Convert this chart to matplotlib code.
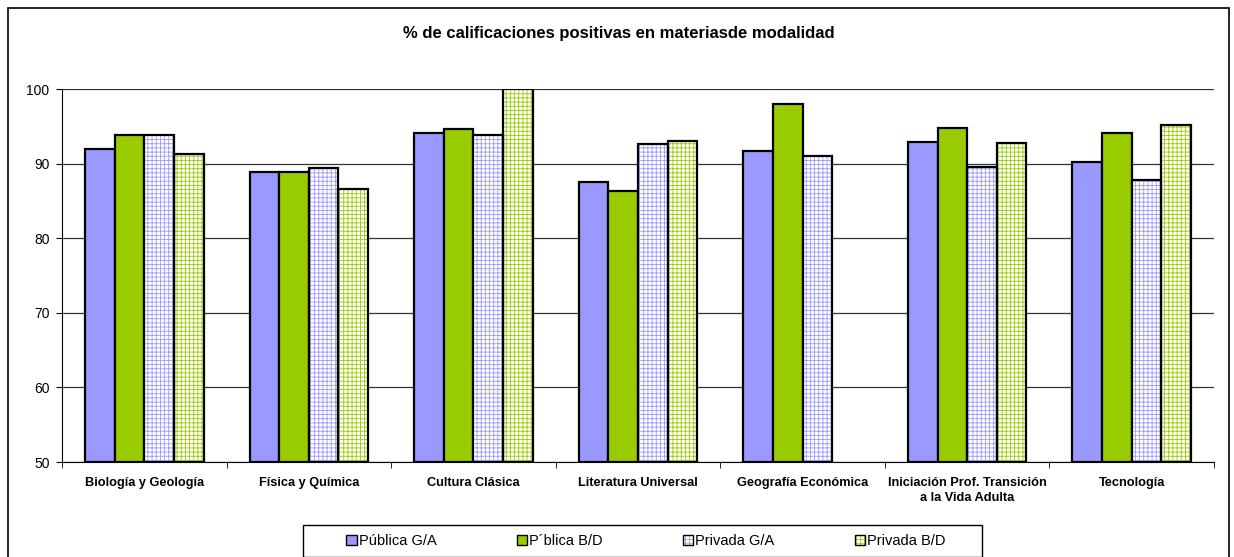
import numpy as np
import matplotlib
matplotlib.use('Agg')
import matplotlib.pyplot as plt
from matplotlib.patches import Rectangle, Patch

plt.rcParams['font.family'] = ['Liberation Sans', 'DejaVu Sans']
plt.rcParams['hatch.linewidth'] = 0.6

# data
categories = ['Biología y Geología', 'Física y Química', 'Cultura Clásica',
              'Literatura Universal', 'Geografía Económica',
              'Iniciación Prof. Transición\na la Vida Adulta', 'Tecnología']
series_names = ['Pública G/A', 'P´blica B/D', 'Privada G/A', 'Privada B/D']
publica_ga = [92.0, 88.9, 94.2, 87.6, 91.7, 92.9, 90.2]
publica_bd = [93.9, 88.9, 94.7, 86.4, 98.0, 94.8, 94.2]
privada_ga = [93.9, 89.4, 93.9, 92.7, 91.1, 89.6, 87.8]
privada_bd = [91.3, 86.6, 100.0, 93.1, np.nan, 92.8, 95.2]

series = [publica_ga, publica_bd, privada_ga, privada_bd]
colors = ['#9999FF', '#99CC00', '#9999FF', '#99CC00']
hatched = [False, False, True, True]

W, H = 1234, 557
fig = plt.figure(figsize=(W / 100, H / 100), dpi=100)
ax = fig.add_axes([62 / W, 1 - 462 / H, (1214 - 62) / W, (462 - 89.3) / H])

x = np.arange(len(categories))
w = 0.18
for i, (vals, c, h) in enumerate(zip(series, colors, hatched)):
    pos = x - 0.36 + w * i + w / 2
    vals = np.array(vals)
    base = 50
    heights = vals - base
    if h:
        ax.bar(pos, heights, w, bottom=base, color='white', edgecolor=c,
               hatch='++++', linewidth=0, zorder=3)
        ax.bar(pos, heights, w, bottom=base, fill=False, edgecolor='black',
               linewidth=1.6, zorder=4)
    else:
        ax.bar(pos, heights, w, bottom=base, color=c, edgecolor='black',
               linewidth=1.6, zorder=3)

ax.set_ylim(50, 100)
ax.set_xlim(-0.5, len(categories) - 0.5)
ax.set_yticks(range(50, 101, 10))
ax.yaxis.grid(True, color='#333333', linewidth=0.9, zorder=0)
ax.set_axisbelow(True)
ax.tick_params(axis='y', labelsize=10, length=4, direction='out', color='black', pad=5)
ax.set_xticks(x)
ax.set_xticklabels(categories, fontsize=9.2, fontweight='bold', linespacing=1.25)
ax.tick_params(axis='x', length=0, pad=11)
ax.set_xticks(np.arange(-0.5, len(categories)), minor=True)
ax.tick_params(axis='x', which='minor', length=4, color='black')
for s in ['top', 'right']:
    ax.spines[s].set_visible(False)
ax.spines['left'].set_color('black')
ax.spines['bottom'].set_color('black')

fig.text(618.5 / W, 1 - 33.3 / H, '% de calificaciones positivas en materiasde modalidad',
         ha='center', va='center', fontsize=12, fontweight='bold')

handles = []
for c, h in zip(colors, hatched):
    if h:
        handles.append((Patch(facecolor='white', edgecolor=c, hatch='++++', linewidth=0),
                        Patch(fill=False, edgecolor='black', linewidth=1)))
    else:
        handles.append(Patch(facecolor=c, edgecolor='black', linewidth=1))
leg = fig.legend(handles, series_names, loc='center',
                 bbox_to_anchor=(646 / W, 1 - 541 / H),
                 ncol=4, fontsize=10.5, frameon=False,
                 columnspacing=5.5, handlelength=0.7,
                 handleheight=0.7, handletextpad=0.15, borderpad=0)

# legend box
fig.patches.append(Rectangle((303 / W, 1 - 557 / H), (982 - 303) / W, (557 - 525) / H,
                             transform=fig.transFigure, fill=False,
                             edgecolor='black', linewidth=1.0))
# outer frame (bottom edge falls outside the image)
fig.patches.append(Rectangle((8 / W, -0.01), (1229 - 8) / W, 1.01 - 8 / H,
                             transform=fig.transFigure, fill=False,
                             edgecolor='black', linewidth=1.2))

fig.savefig('out.png', dpi=100)
